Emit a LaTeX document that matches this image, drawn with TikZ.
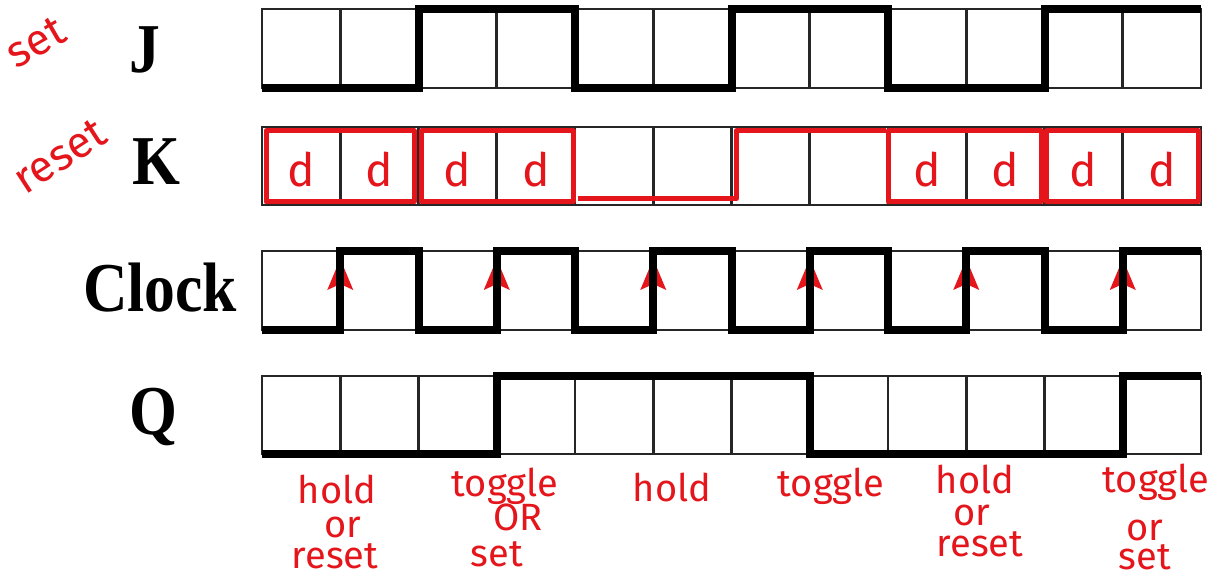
\documentclass[tikz,border=0pt]{standalone}
\usepackage{fontspec}
\setmainfont{Liberation Serif}
\newfontfamily\hand{Fira Sans}
\definecolor{hred}{RGB}{228,22,28}
\begin{document}
\begin{tikzpicture}[x=1pt,y=-1pt,
  grid/.style={line width=2.8pt, draw=black!85},
  wave/.style={line width=8pt, draw=black, line join=miter},
  redline/.style={line width=5pt, draw=hred, line join=round},
  lbl/.style={font=\bfseries\fontsize{70}{70}\selectfont, inner sep=0pt, anchor=base, xscale=0.88},
  hw/.style={font=\hand\fontsize{38}{38}\selectfont, text=hred, inner sep=0pt, anchor=base},
  sidehw/.style={font=\hand\fontsize{44}{44}\selectfont, text=hred, inner sep=0pt, anchor=center},
  dd/.style={font=\hand\fontsize{46}{46}\selectfont, text=hred, inner sep=0pt, anchor=base},
  clkarrow/.style={fill=hred},
]
\useasboundingbox (0,0) rectangle (1218,577);
\fill[white] (0,0) rectangle (1218,577);

% grids
\foreach \t/\b in {9/88,127/205,251/330,376/454} {
  \draw[grid] (262,\t) rectangle (1201,\b);
  \foreach \i in {1,...,11} \draw[grid] ({262+78.25*\i},\t) -- ({262+78.25*\i},\b);
}

% row labels
\node[lbl] (lJ) at (145,73) {J};
\node[lbl] (lK) at (156,185) {K};
\node[lbl] (lC) at (160,312) {Clock};
\node[lbl] (lQ) at (153,434) {Q};

% side handwriting
\node[sidehw, rotate=30] (hset) at (36,42) {set};
\node[sidehw, rotate=33] (hreset) at (60,156) {reset};

% J waveform
\draw[wave] (262,88) -- (418.5,88) -- (418.5,9) -- (575,9) -- (575,88) -- (731.5,88) -- (731.5,9)
  -- (888,9) -- (888,88) -- (1044.5,88) -- (1044.5,9) -- (1201,9);

% K red overlay
\draw[redline] (266,131) rectangle (414,202);
\draw[redline] (421,131) rectangle (573,202);
\draw[redline] (578,199) -- (736,199) -- (736,131) -- (886,131);
\draw[redline] (888,131) rectangle (1041,202);
\draw[redline] (1046,131) rectangle (1198,202);
\foreach \i in {0,1,2,3,8,9,10,11}
  \node[dd] (d\i) at ({262+78.25*\i+39},187) {d};

% clock arrows
\foreach \i in {1,3,5,7,9,11}
  \fill[clkarrow] ({262+78.25*\i},259) -- ++(13,31) -- ++(-13,-6) -- ++(-13,6) -- cycle;

% Clock waveform
\draw[wave] (262,330) -- (340.25,330) -- (340.25,251) -- (418.5,251) -- (418.5,330) -- (496.75,330)
  -- (496.75,251) -- (575,251) -- (575,330) -- (653.25,330) -- (653.25,251) -- (731.5,251)
  -- (731.5,330) -- (809.75,330) -- (809.75,251) -- (888,251) -- (888,330) -- (966.25,330)
  -- (966.25,251) -- (1044.5,251) -- (1044.5,330) -- (1122.75,330) -- (1122.75,251) -- (1201,251);

% Q waveform
\draw[wave] (262,454) -- (496.75,454) -- (496.75,376) -- (809.75,376) -- (809.75,454)
  -- (1122.75,454) -- (1122.75,376) -- (1201,376);

% bottom annotations
\node[hw] (a1) at (337,503) {hold};
\node[hw] (a2) at (343,537) {or};
\node[hw] (a3) at (335,568) {reset};
\node[hw] (b1) at (505,496) {toggle};
\node[hw] (b2) at (518,530) {OR};
\node[hw] (b3) at (497,566) {set};
\node[hw] (c1) at (672,501) {hold};
\node[hw] (e1) at (831,496) {toggle};
\node[hw] (f1) at (975,493) {hold};
\node[hw] (f2) at (972,525) {or};
\node[hw] (f3) at (980,556) {reset};
\node[hw] (g1) at (1156,492) {toggle};
\node[hw] (g2) at (1145,540) {or};
\node[hw] (g3) at (1145,569) {set};
\end{tikzpicture}
\end{document}
